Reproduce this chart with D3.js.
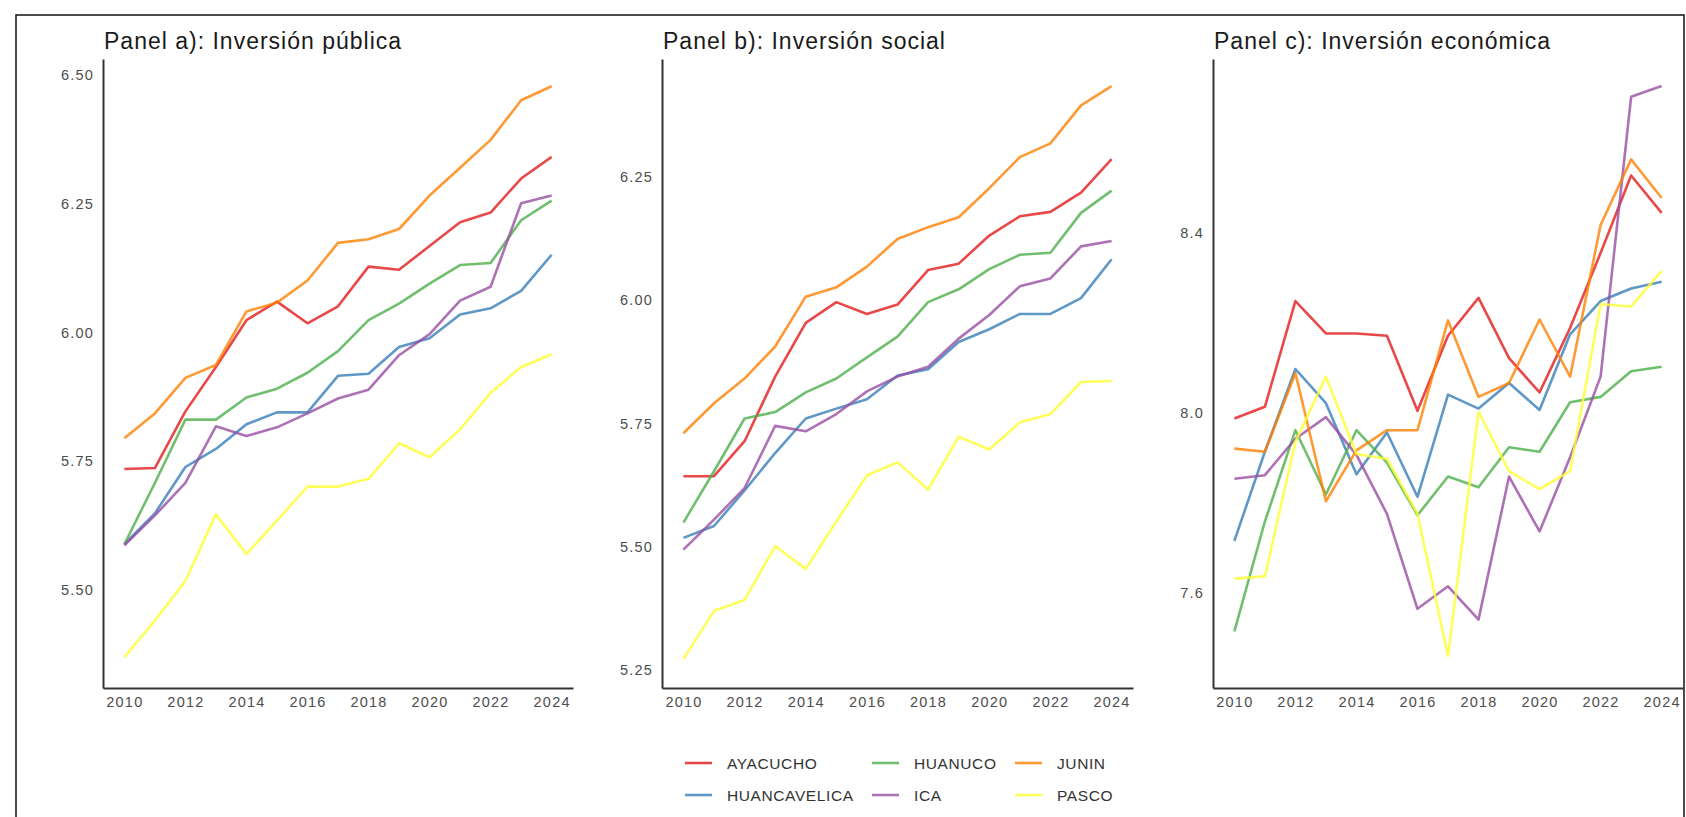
<!DOCTYPE html>
<html lang="en">
<head>
<meta charset="utf-8">
<script src="https://d3js.org/d3.v7.min.js"></script>
<style type="text/css">
body {
  margin: 0;
  background-color: #ffffff;
  font-family: "Liberation Sans", Arial, sans-serif;
}
.title {
  font-size: 23px;
  letter-spacing: 1px;
  fill: #1a1a1a;
}
.axis text {
  font-size: 14.5px;
  letter-spacing: 1.2px;
  fill: #4d4d4d;
}
.axis path {
  stroke: #333;
  stroke-width: 2px;
}
.legend text {
  font-size: 15.5px;
  letter-spacing: 0.6px;
  fill: #333;
}
</style>
</head>
<body>
<script type="text/javascript">

// years on the x axis
var years = d3.range(2010, 2025);

// regions, in the order the lines are drawn and listed in the legend
var regions = ["AYACUCHO", "HUANCAVELICA", "HUANUCO", "ICA", "JUNIN", "PASCO"];
var colors = ["#E41A1C", "#377EB8", "#4DAF4A", "#984EA3", "#FF7F00", "#FFFF33"];

// Panel a): Inversion publica (log), one row per region
var panelA = [
  [5.735, 5.737, 5.847, 5.933, 6.024, 6.060, 6.018, 6.051, 6.128, 6.122, 6.168, 6.214, 6.233, 6.299, 6.341],
  [5.589, 5.649, 5.739, 5.774, 5.822, 5.845, 5.845, 5.916, 5.920, 5.972, 5.989, 6.035, 6.047, 6.081, 6.151],
  [5.589, 5.708, 5.831, 5.831, 5.874, 5.891, 5.922, 5.964, 6.024, 6.056, 6.095, 6.131, 6.135, 6.218, 6.256],
  [5.587, 5.645, 5.708, 5.818, 5.799, 5.816, 5.843, 5.872, 5.889, 5.956, 5.997, 6.062, 6.089, 6.251, 6.266],
  [5.795, 5.843, 5.912, 5.937, 6.041, 6.058, 6.101, 6.174, 6.181, 6.201, 6.266, 6.320, 6.374, 6.451, 6.478],
  [5.370, 5.441, 5.518, 5.647, 5.570, 5.635, 5.701, 5.701, 5.716, 5.785, 5.758, 5.812, 5.883, 5.933, 5.958]
];

// Panel b): Inversion social (log)
var panelB = [
  [5.643, 5.643, 5.714, 5.845, 5.954, 5.996, 5.972, 5.991, 6.061, 6.074, 6.131, 6.170, 6.179, 6.218, 6.286],
  [5.518, 5.542, 5.614, 5.690, 5.760, 5.780, 5.799, 5.847, 5.860, 5.915, 5.941, 5.972, 5.972, 6.004, 6.083],
  [5.549, 5.653, 5.760, 5.773, 5.813, 5.841, 5.884, 5.926, 5.996, 6.022, 6.063, 6.092, 6.096, 6.177, 6.222],
  [5.494, 5.555, 5.619, 5.745, 5.734, 5.769, 5.815, 5.845, 5.865, 5.922, 5.970, 6.028, 6.044, 6.109, 6.120],
  [5.730, 5.791, 5.841, 5.906, 6.007, 6.026, 6.068, 6.124, 6.148, 6.168, 6.227, 6.290, 6.318, 6.395, 6.434],
  [5.272, 5.370, 5.392, 5.501, 5.455, 5.551, 5.645, 5.671, 5.616, 5.723, 5.697, 5.752, 5.769, 5.834, 5.836]
];

// Panel c): Inversion economica (log)
var panelC = [
  [7.988, 8.014, 8.249, 8.177, 8.177, 8.172, 8.005, 8.172, 8.256, 8.122, 8.046, 8.189, 8.356, 8.528, 8.445],
  [7.716, 7.914, 8.098, 8.022, 7.864, 7.957, 7.814, 8.041, 8.010, 8.067, 8.007, 8.175, 8.249, 8.277, 8.292],
  [7.515, 7.759, 7.962, 7.819, 7.962, 7.890, 7.773, 7.859, 7.835, 7.924, 7.914, 8.024, 8.036, 8.093, 8.103],
  [7.854, 7.862, 7.943, 7.991, 7.907, 7.776, 7.565, 7.615, 7.541, 7.859, 7.737, 7.902, 8.081, 8.703, 8.727],
  [7.921, 7.914, 8.089, 7.804, 7.917, 7.962, 7.962, 8.206, 8.036, 8.067, 8.208, 8.081, 8.418, 8.564, 8.478],
  [7.632, 7.637, 7.936, 8.081, 7.909, 7.898, 7.776, 7.460, 8.003, 7.871, 7.831, 7.871, 8.242, 8.237, 8.316]
];

var titles = ["Panel a): Inversión pública", "Panel b): Inversión social", "Panel c): Inversión económica"];
var xTicks = [2010, 2012, 2014, 2016, 2018, 2020, 2022, 2024];
var yTicksA = [5.50, 5.75, 6.00, 6.25, 6.50];
var yTicksB = [5.25, 5.50, 5.75, 6.00, 6.25];
var yTicksC = [7.6, 8.0, 8.4];

var width = 1686;
var height = 817;

var svg = d3.select("body")
  .append("svg")
  .attr("width", width)
  .attr("height", height);

// frame around the figure
svg.append("rect")
  .attr("x", 16)
  .attr("y", 15)
  .attr("width", 1668)
  .attr("height", 830)
  .style("fill", "none")
  .style("stroke", "#111")
  .style("stroke-width", 1.5);

var panelTop = 59;
var panelBottom = 688;

var panels = [
  {left: 103, right: 573, data: panelA, domain: [5.310, 6.531], ticks: yTicksA, fmt: d3.format(".2f")},
  {left: 662, right: 1133, data: panelB, domain: [5.2135, 6.489], ticks: yTicksB, fmt: d3.format(".2f")},
  {left: 1213, right: 1683, data: panelC, domain: [7.389, 8.787], ticks: yTicksC, fmt: d3.format(".1f")}
];

panels.forEach(function(p, i) {
  var x = d3.scaleLinear()
    .domain([2009.3, 2024.7])
    .range([p.left, p.right]);

  var y = d3.scaleLinear()
    .domain(p.domain)
    .range([panelBottom, panelTop]);

  var g = svg.append("g");

  g.append("text")
    .attr("class", "title")
    .attr("x", p.left + 1)
    .attr("y", 49)
    .text(titles[i]);

  g.append("g")
    .attr("class", "axis")
    .attr("transform", "translate(0," + panelBottom + ")")
    .call(d3.axisBottom(x).tickValues(xTicks).tickFormat(d3.format("d")).tickSize(0).tickPadding(9))
    .call(function(a) { a.selectAll("text").style("font-family", "inherit"); });

  g.append("g")
    .attr("class", "axis")
    .attr("transform", "translate(" + p.left + ",0)")
    .call(d3.axisLeft(y).tickValues(p.ticks).tickFormat(p.fmt).tickSize(0).tickPadding(9))
    .call(function(a) { a.selectAll("text").style("font-family", "inherit"); });

  var line = d3.line()
    .x(function(d, j) { return x(years[j]); })
    .y(function(d) { return y(d); });

  g.selectAll("path.series")
    .data(p.data)
    .enter()
    .append("path")
    .attr("class", "series")
    .attr("d", line)
    .style("fill", "none")
    .style("stroke", function(d, j) { return colors[j]; })
    .style("stroke-opacity", 0.8)
    .style("stroke-width", 2.6)
    .style("stroke-linejoin", "round");
});

// legend: two rows, filled column by column
var legendCols = [685, 872, 1015];
var legendRows = [763, 795];

var legend = svg.append("g").attr("class", "legend");

regions.forEach(function(r, i) {
  var cx = legendCols[Math.floor(i / 2)];
  var cy = legendRows[i % 2];
  legend.append("line")
    .attr("x1", cx)
    .attr("x2", cx + 27)
    .attr("y1", cy)
    .attr("y2", cy)
    .style("stroke", colors[i])
    .style("stroke-opacity", 0.8)
    .style("stroke-width", 2.6);
  legend.append("text")
    .attr("x", cx + 42)
    .attr("y", cy + 5.5)
    .text(r);
});

</script>
</body>
</html>
